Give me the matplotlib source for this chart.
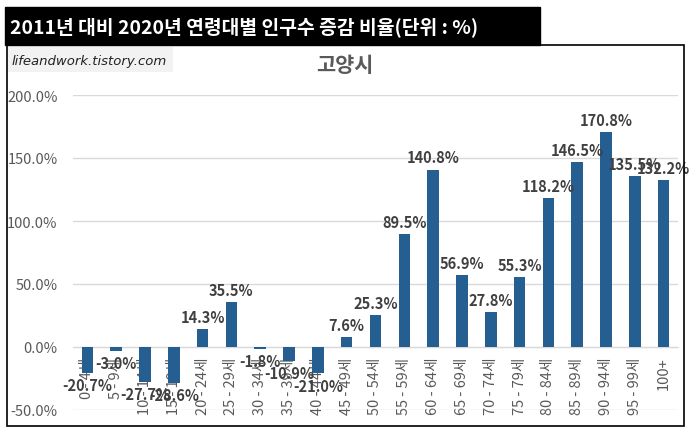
import matplotlib
matplotlib.use("Agg")
import matplotlib.pyplot as plt
from matplotlib.patches import Rectangle

plt.rcParams['font.family'] = ['Noto Sans CJK KR', 'DejaVu Sans']

categories = ["0 - 4세", "5 - 9세", "10 - 14세", "15 - 19세", "20 - 24세", "25 - 29세",
              "30 - 34세", "35 - 39세", "40 - 44세", "45 - 49세", "50 - 54세", "55 - 59세",
              "60 - 64세", "65 - 69세", "70 - 74세", "75 - 79세", "80 - 84세", "85 - 89세",
              "90 - 94세", "95 - 99세", "100+"]
values = [-20.7, -3.0, -27.7, -28.6, 14.3, 35.5, -1.8, -10.9, -21.0, 7.6, 25.3, 89.5,
          140.8, 56.9, 27.8, 55.3, 118.2, 146.5, 170.8, 135.5, 132.2]
yticks = [-50, 0, 50, 100, 150, 200]

W, H = 692, 435
fig = plt.figure(figsize=(W/100, H/100), dpi=100)

def px(x0, y0, x1, y1):
    return [x0/W, 1 - y1/H, (x1-x0)/W, (y1-y0)/H]

# chart frame
fig.patches.append(Rectangle((7/W, 1-427/H), (684-7)/W, (427-46)/H, transform=fig.transFigure,
                             facecolor='none', edgecolor='black', linewidth=1.2, zorder=4))
# title box
fig.patches.append(Rectangle((5/W, 1-46/H), (540-5)/W, (46-8)/H, transform=fig.transFigure,
                             facecolor='black', edgecolor='black', zorder=4))
fig.text(10/W, 1-27/H, "2011년 대비 2020년 연령대별 인구수 증감 비율(단위 : %)", color='white',
         fontsize=13.9, fontweight='bold', va='center', ha='left', zorder=5)
# watermark
fig.patches.append(Rectangle((8/W, 1-73/H), (173-8)/W, (73-48)/H, transform=fig.transFigure,
                             facecolor='#F2F2F2', edgecolor='none', zorder=4))
fig.text(12/W, 1-61/H, "lifeandwork.tistory.com", color='#222222', fontsize=9.5,
         style='italic', va='center', ha='left', family=['DejaVu Sans'], zorder=5)
fig.text(345/W, 1-66/H, "고양시", color='#595959', fontsize=15, fontweight='bold',
         va='center', ha='center', zorder=5)

ax = fig.add_axes(px(73, 96, 678, 411))
ax.set_facecolor('none')
x = list(range(len(categories)))
ax.bar(x, values, width=0.4, color='#255E91', zorder=3)
ax.set_xlim(-0.5, len(categories)-0.5)
ax.set_ylim(-50, 200)
ax.set_yticks(yticks)
ax.set_yticklabels([f"{v:.1f}%" for v in yticks], color='#595959', fontsize=10.5)
ax.tick_params(axis='y', length=0, pad=11)
ax.grid(axis='y', color='#D9D9D9', linewidth=1, zorder=0)
for s in ['top', 'right', 'left']:
    ax.spines[s].set_visible(False)
ax.spines['bottom'].set_position(('data', 0))
ax.spines['bottom'].set_color('#D9D9D9')
ax.set_xticks(x)
ax.set_xticklabels(categories, rotation=90, color='#595959', fontsize=10.5, va='top')
ax.tick_params(axis='x', length=0, pad=7)

for xi, v in zip(x, values):
    if v >= 0:
        ax.annotate(f"{v:.1f}%", (xi, v), xytext=(0, 3), textcoords='offset points',
                    ha='center', va='bottom', fontsize=10.5, fontweight='bold', color='#404040', zorder=5)
    else:
        ax.annotate(f"{v:.1f}%", (xi, v), xytext=(0, -3), textcoords='offset points',
                    ha='center', va='top', fontsize=10.5, fontweight='bold', color='#404040', zorder=5)

fig.savefig("out.png", dpi=100)
